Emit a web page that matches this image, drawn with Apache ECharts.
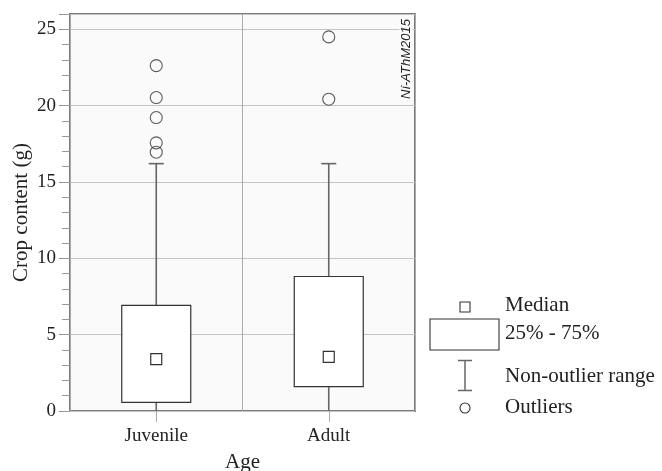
<!DOCTYPE html>
<html>
<head>
<meta charset="utf-8">
<script src="https://cdn.jsdelivr.net/npm/echarts@6/dist/echarts.min.js"></script>
<style>html,body{margin:0;padding:0;background:#fff;}#c{width:662px;height:471px;}</style>
</head>
<body>
<div id="c"></div>
<script>
var categories = ['Juvenile', 'Adult'];
// [min, Q1, median, Q3, max]
var boxJuvenile = [0, 0.57, 3.4, 6.92, 16.2];
var boxAdult = [0, 1.59, 3.55, 8.81, 16.2];
var outliersJuvenile = [22.62, 20.53, 19.22, 17.56, 16.95];
var outliersAdult = [24.5, 20.42];
var yTicks = [0, 5, 10, 15, 20, 25];

var FONT = 'Liberation Serif';
var boxes = [boxJuvenile, boxAdult];
var boxData = boxes.map(function (b, i) { return [i].concat(b); });
var outData = [];
outliersJuvenile.forEach(function (v) { outData.push([0, v]); });
outliersAdult.forEach(function (v) { outData.push([1, v]); });

var chart = echarts.init(document.getElementById('c'), null, {renderer: 'canvas'});
chart.setOption({
  animation: false,
  backgroundColor: '#ffffff',
  grid: {left: 70, right: 247, top: 14, bottom: 60, show: true, backgroundColor: '#fafafa', borderColor: '#7a7a7a', borderWidth: 2, outerBoundsMode: 'none', containLabel: false},
  xAxis: {
    type: 'category', data: categories, boundaryGap: true,
    name: 'Age', nameLocation: 'middle', nameGap: 41, nameMoveOverlap: false,
    nameTextStyle: {fontFamily: FONT, fontSize: 21, color: '#222'},
    axisLine: {show: false},
    axisTick: {show: true, alignWithLabel: true, length: 11, lineStyle: {color: '#aaa', width: 1}},
    axisLabel: {fontFamily: FONT, fontSize: 19, color: '#222', margin: 16},
    splitLine: {show: true, lineStyle: {color: '#aaa', width: 1}}
  },
  yAxis: [{
    type: 'value', min: 0, max: 26, interval: 5,
    name: 'Crop content (g)', nameLocation: 'middle', nameGap: 38, nameMoveOverlap: false,
    nameTextStyle: {fontFamily: FONT, fontSize: 21, color: '#222'},
    axisLine: {show: false},
    axisTick: {show: true, length: 11, lineStyle: {color: '#888'}},
    axisLabel: {fontFamily: FONT, fontSize: 19, color: '#222', margin: 14,
      formatter: function (v) { return yTicks.indexOf(v) >= 0 ? String(v) : ''; }},
    splitLine: {show: true, lineStyle: {color: '#c4c4c4', width: 1}}
  }, {
    type: 'value', min: 0, max: 26, interval: 1, position: 'left',
    axisLine: {show: false},
    axisTick: {show: true, length: 8, lineStyle: {color: '#999'}},
    axisLabel: {show: false},
    splitLine: {show: false}
  }],
  series: [{
    type: 'custom',
    data: boxData,
    encode: {x: 0, y: [1, 2, 3, 4, 5]},
    renderItem: function (params, api) {
      var x = api.value(0);
      var band = api.size([1, 0])[0];
      var bw = band * 0.4;
      var capW = 15;
      var pMin = api.coord([x, api.value(1)]);
      var pQ1 = api.coord([x, api.value(2)]);
      var pMed = api.coord([x, api.value(3)]);
      var pQ3 = api.coord([x, api.value(4)]);
      var pMax = api.coord([x, api.value(5)]);
      var cx = pMed[0];
      var wl = {stroke: '#666', lineWidth: 1.6};
      return {
        type: 'group',
        children: [
          {type: 'line', shape: {x1: cx, y1: pQ3[1], x2: cx, y2: pMax[1]}, style: wl},
          {type: 'line', shape: {x1: cx - capW / 2, y1: pMax[1], x2: cx + capW / 2, y2: pMax[1]}, style: wl},
          {type: 'line', shape: {x1: cx, y1: pMin[1], x2: cx, y2: pQ1[1]}, style: wl},
          {type: 'rect', shape: {x: cx - bw / 2, y: pQ3[1], width: bw, height: pQ1[1] - pQ3[1]},
            style: {fill: '#ffffff', stroke: '#333', lineWidth: 1.2}},
          {type: 'rect', shape: {x: cx - 5.5, y: pMed[1] - 5.5, width: 11, height: 11},
            style: {fill: '#ffffff', stroke: '#333', lineWidth: 1.2}}
        ]
      };
    },
    z: 3
  }, {
    type: 'scatter',
    data: outData,
    symbol: 'circle', symbolSize: 12,
    itemStyle: {color: 'rgba(0,0,0,0)', borderColor: '#333', borderWidth: 1.1},
    z: 4
  }],
  graphic: [
    {type: 'text', x: 406, y: 59, rotation: Math.PI / 2, z: 10,
      style: {text: 'Ní-AThM2015', font: 'italic 13px "Liberation Sans"', fill: '#222',
        align: 'center', verticalAlign: 'middle', backgroundColor: '#fafafa', padding: [0, 2]}},
    {type: 'rect', shape: {x: 460, y: 302, width: 10, height: 10}, style: {fill: '#fff', stroke: '#333', lineWidth: 1.1}},
    {type: 'text', x: 505, y: 305, style: {text: 'Median', font: '21px "Liberation Serif"', fill: '#222', verticalAlign: 'middle'}},
    {type: 'rect', shape: {x: 430, y: 319, width: 69, height: 31}, style: {fill: '#fff', stroke: '#333', lineWidth: 1.1}},
    {type: 'text', x: 505, y: 333, style: {text: '25% - 75%', font: '21px "Liberation Serif"', fill: '#222', verticalAlign: 'middle'}},
    {type: 'line', shape: {x1: 465, y1: 360.5, x2: 465, y2: 390.5}, style: {stroke: '#666', lineWidth: 1.5}},
    {type: 'line', shape: {x1: 458, y1: 360.5, x2: 472, y2: 360.5}, style: {stroke: '#666', lineWidth: 1.5}},
    {type: 'line', shape: {x1: 458, y1: 390.5, x2: 472, y2: 390.5}, style: {stroke: '#666', lineWidth: 1.5}},
    {type: 'text', x: 505, y: 376, style: {text: 'Non-outlier range', font: '21px "Liberation Serif"', fill: '#222', verticalAlign: 'middle'}},
    {type: 'circle', shape: {cx: 465, cy: 408, r: 5}, style: {fill: '#fff', stroke: '#333', lineWidth: 1.1}},
    {type: 'text', x: 505, y: 407, style: {text: 'Outliers', font: '21px "Liberation Serif"', fill: '#222', verticalAlign: 'middle'}}
  ]
});
</script>
</body>
</html>
